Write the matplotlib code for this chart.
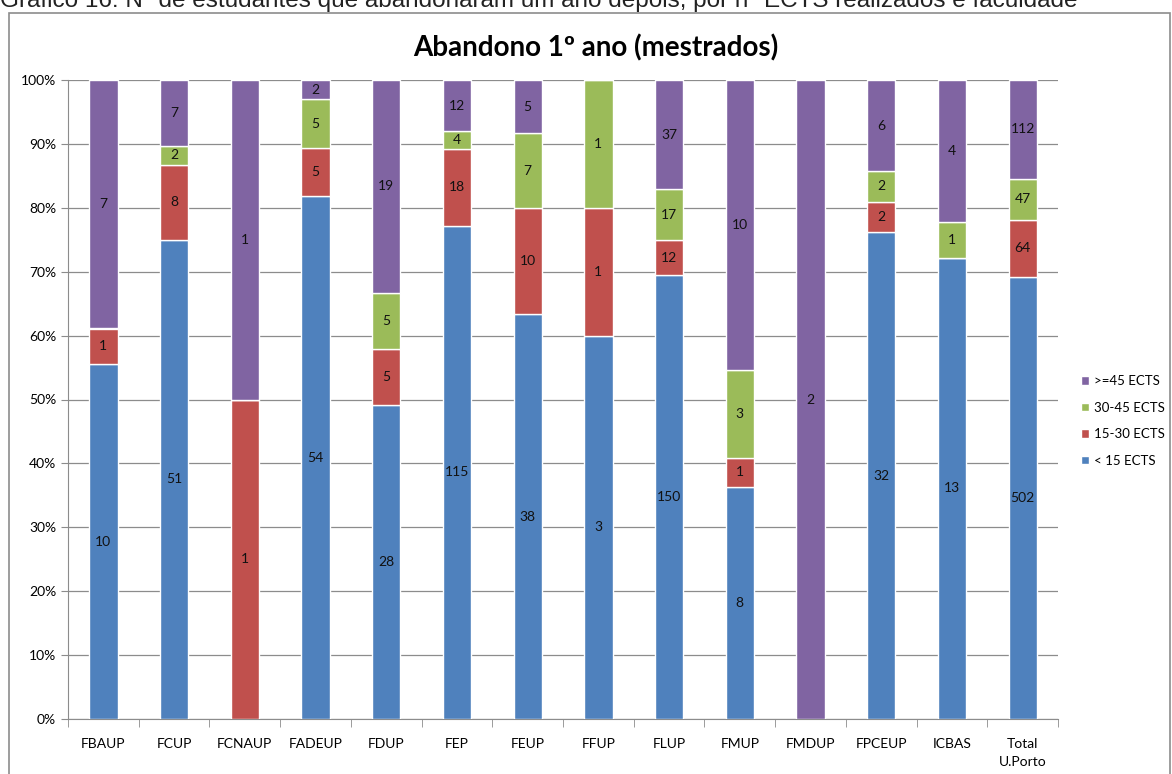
import matplotlib
matplotlib.use("Agg")
import matplotlib.pyplot as plt
from matplotlib.patches import Rectangle
import numpy as np

# ── Data ─────────────────────────────────────────────────────────────────────
faculdades = ["FBAUP", "FCUP", "FCNAUP", "FADEUP", "FDUP", "FEP", "FEUP",
              "FFUP", "FLUP", "FMUP", "FMDUP", "FPCEUP", "ICBAS", "Total\nU.Porto"]
lt15   = [10, 51, 0, 54, 28, 115, 38, 3, 150, 8, 0, 32, 13, 502]
e15_30 = [1, 8, 1, 5, 5, 18, 10, 1, 12, 1, 0, 2, 0, 64]
e30_45 = [0, 2, 0, 5, 5, 4, 7, 1, 17, 3, 0, 2, 1, 47]
ge45   = [7, 7, 1, 2, 19, 12, 5, 0, 37, 10, 2, 6, 4, 112]

series = [("< 15 ECTS", lt15, "#4F81BD"),
          ("15-30 ECTS", e15_30, "#C0504D"),
          ("30-45 ECTS", e30_45, "#9BBB59"),
          (">=45 ECTS", ge45, "#8064A2")]

plt.rcParams.update({
    "font.family": ["Lato", "DejaVu Sans"],
    "font.size": 10,
})

W, H = 1172, 774
fig = plt.figure(figsize=(W / 100, H / 100), dpi=100)
ax = fig.add_axes([68 / W, 55 / H, 990 / W, 639 / H])

# caption (clipped at the top, as in the source document)
fig.text(0.0, 1 - 7 / H, "Gráfico 16: Nº de estudantes que abandonaram um ano depois, "
         "por nº ECTS realizados e faculdade",
         family=["Liberation Sans"], fontsize=17.5, ha="left", va="baseline",
         color="#222222")
# outer chart frame (bottom edge falls outside the picture)
fig.patches.append(Rectangle((8.5 / W, -0.01), 1161 / W, 1.01 - 13 / H,
                             transform=fig.transFigure, fill=False,
                             edgecolor="#8c8c8c", linewidth=1.2))

fig.text(596 / W, 1 - 48 / H, "Abandono 1º ano (mestrados)",
         fontsize=20, fontweight="bold", ha="center", va="center")

totals = np.sum([s[1] for s in series], axis=0).astype(float)
x = np.arange(len(faculdades))
bottom = np.zeros(len(faculdades))
handles = []
for name, vals, color in series:
    vals = np.array(vals, dtype=float)
    frac = vals / totals
    bars = ax.bar(x, frac, bottom=bottom, width=0.40, color=color,
                  edgecolor="white", linewidth=1.0, label=name, zorder=3)
    handles.append(bars)
    for xi, f, b, v in zip(x, frac, bottom, vals):
        if v > 0:
            ax.text(xi, b + f / 2, f"{int(v)}", ha="center", va="center",
                    fontsize=10, color="#111111", zorder=4)
    bottom += frac

ax.set_xlim(-0.5, len(faculdades) - 0.5)
ax.set_ylim(0, 1)
ax.set_yticks(np.arange(0, 1.01, 0.1))
ax.set_yticklabels([f"{int(round(v * 100))}%" for v in np.arange(0, 1.01, 0.1)])
ax.yaxis.grid(True, color="#8c8c8c", linewidth=0.9, zorder=0)
ax.set_axisbelow(True)

ax.set_xticks(x)
ax.set_xticklabels(faculdades, fontsize=10, linespacing=1.6)
ax.tick_params(axis="x", length=0, pad=14)
ax.set_xticks(np.arange(-0.5, len(faculdades)), minor=True)
ax.tick_params(axis="x", which="minor", length=6, color="#8c8c8c")
ax.tick_params(axis="y", length=5, color="#8c8c8c", labelsize=10)

for side in ("top", "right"):
    ax.spines[side].set_visible(False)
ax.spines["left"].set_color("#8c8c8c")
ax.spines["bottom"].set_color("#8c8c8c")

leg = fig.legend(handles[::-1], [s[0] for s in series][::-1],
                 loc="center left", bbox_to_anchor=(1072 / W, 1 - 421 / H),
                 frameon=False, fontsize=9.5, handlelength=0.6,
                 handleheight=0.6, handletextpad=0.35, labelspacing=1.1,
                 borderpad=0.2)

fig.savefig("out.png", dpi=100)
